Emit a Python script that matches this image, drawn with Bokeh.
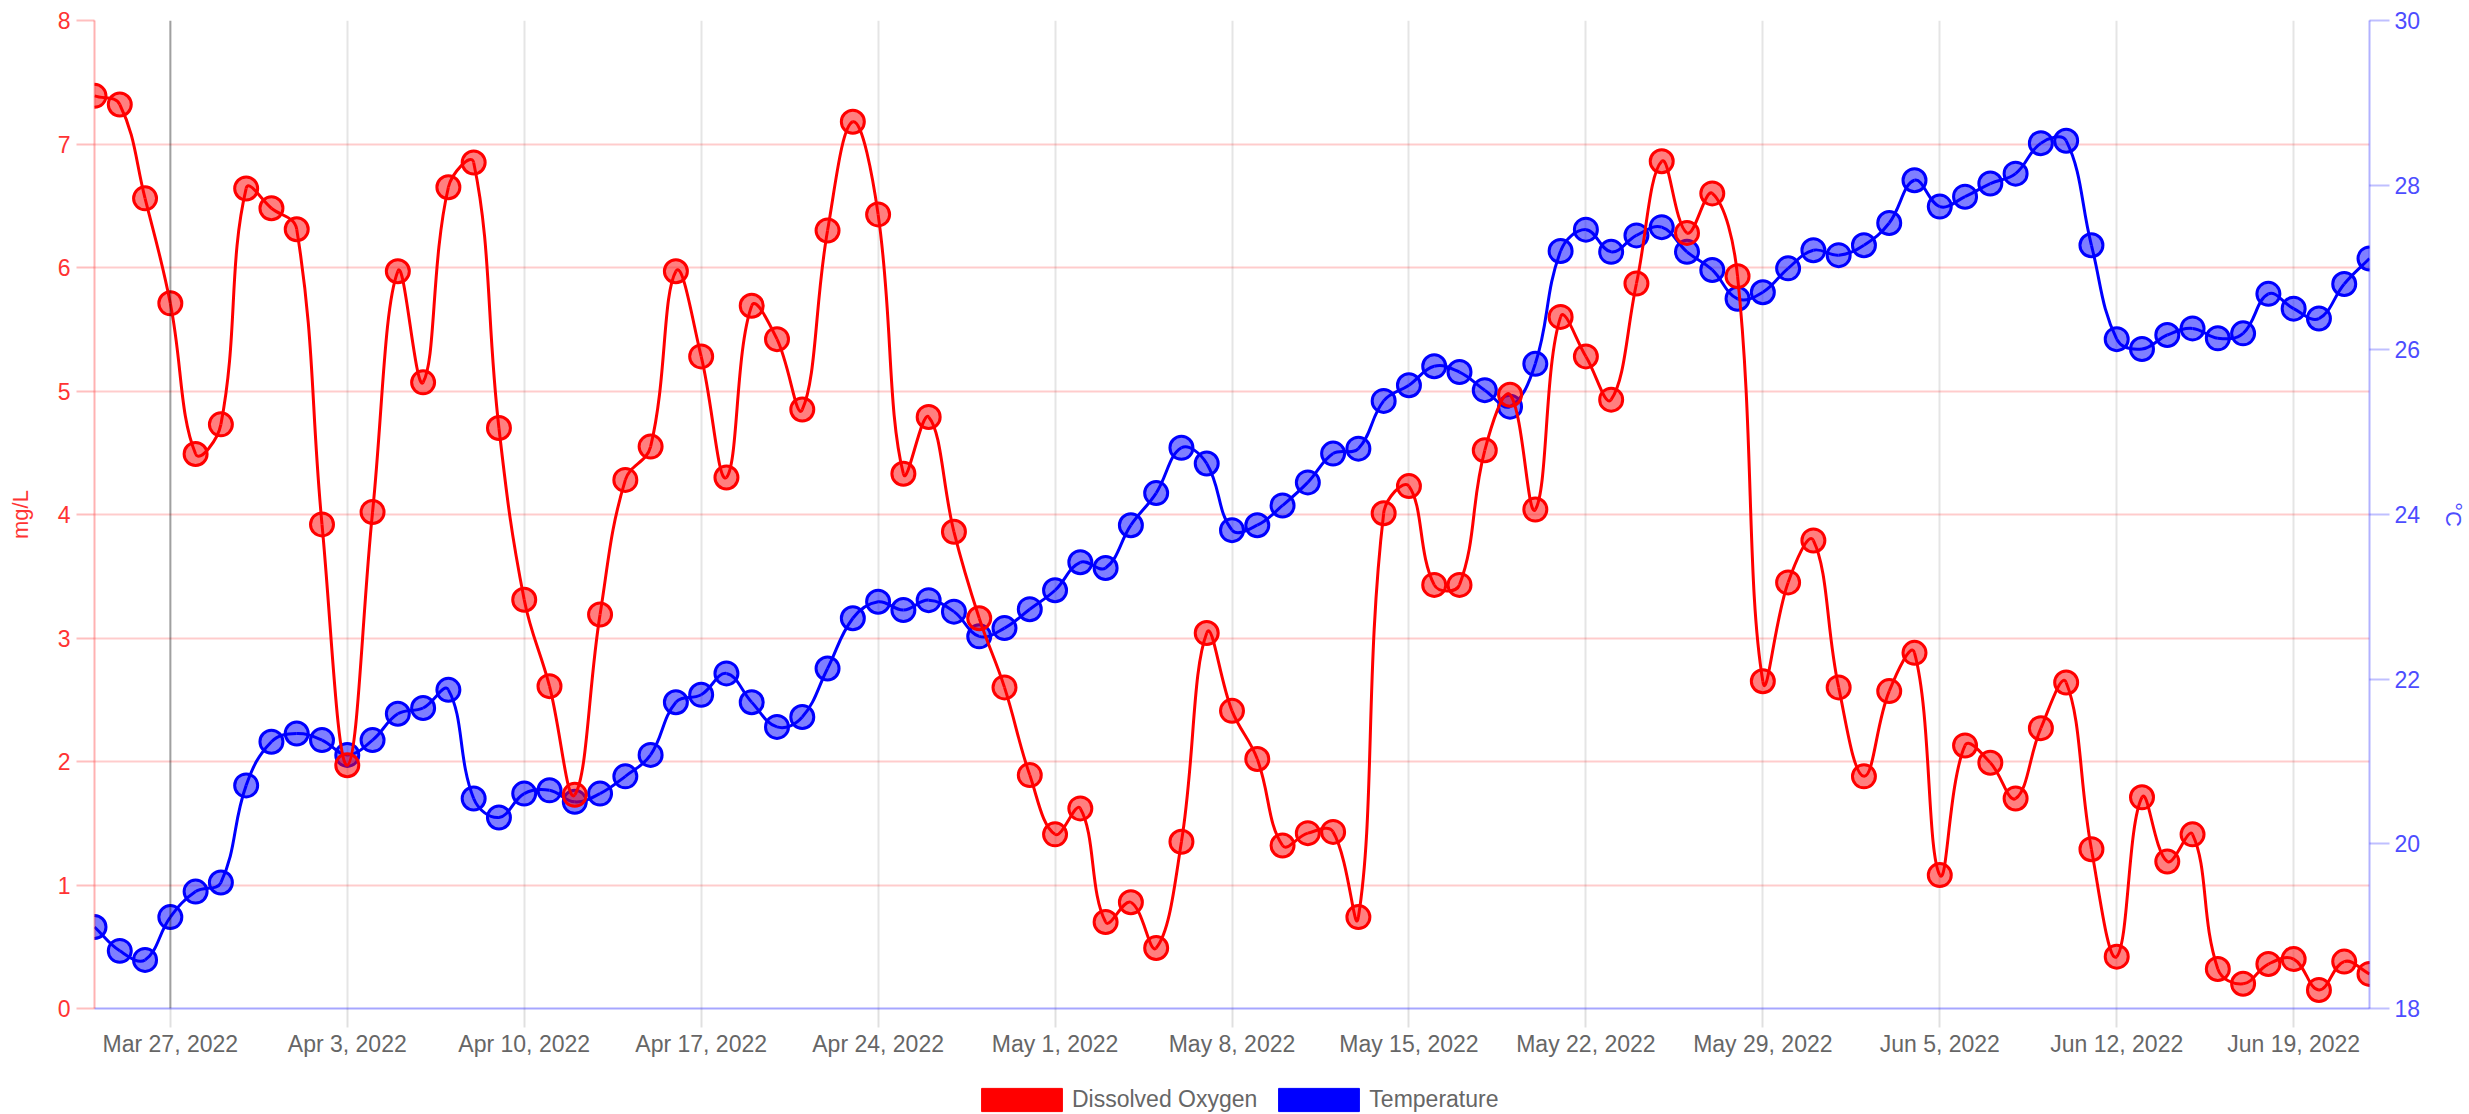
import numpy as np
import pandas as pd
from bokeh.plotting import figure
from bokeh.layouts import column
from bokeh.models import Range1d, LinearAxis, FixedTicker, Grid, Legend, LegendItem, Span
from bokeh.embed import file_html
from bokeh.resources import INLINE

# ---------------- data ----------------
first_date = "2022-03-24"
last_date = "2022-06-22"

dissolved_oxygen = [
    7.39, 7.32, 6.56, 5.71, 4.49, 4.73, 6.64, 6.48, 6.31, 3.92, 1.97, 4.02, 5.97, 5.07, 6.65, 6.85,
    4.70, 3.31, 2.61, 1.73, 3.19, 4.28, 4.55, 5.97, 5.28, 4.30, 5.69, 5.42, 4.85, 6.30, 7.18,
    6.43, 4.33, 4.79, 3.86, 3.16, 2.60, 1.89, 1.41, 1.62, 0.70, 0.86, 0.49, 1.35, 3.04, 2.41,
    2.02, 1.32, 1.42, 1.43, 0.74, 4.01, 4.23, 3.43, 3.43, 4.52, 4.97, 4.04, 5.60, 5.28, 4.93,
    5.87, 6.86, 6.28, 6.60, 5.93, 2.65, 3.45, 3.79, 2.60, 1.88, 2.57, 2.88, 1.08, 2.13, 1.99,
    1.70, 2.27, 2.64, 1.29, 0.42, 1.71, 1.19, 1.41, 0.32, 0.20, 0.36, 0.40, 0.15, 0.38, 0.28,
]

temperature = [
    18.99, 18.70, 18.59, 19.11, 19.42, 19.53, 20.71, 21.24, 21.34, 21.26, 21.08, 21.26, 21.58, 21.65, 21.87, 20.55,
    20.32, 20.61, 20.65, 20.51, 20.61, 20.82, 21.08, 21.72, 21.81, 22.07, 21.72, 21.42, 21.54, 22.13, 22.74,
    22.94, 22.84, 22.96, 22.82, 22.52, 22.62, 22.85, 23.08, 23.42, 23.35, 23.87, 24.26, 24.81, 24.62, 23.81,
    23.87, 24.11, 24.39, 24.74, 24.80, 25.38, 25.57, 25.80, 25.73, 25.51, 25.31, 25.83, 27.20, 27.46, 27.19,
    27.39, 27.49, 27.19, 26.97, 26.62, 26.70, 26.99, 27.21, 27.15, 27.27, 27.54, 28.06, 27.74, 27.86, 28.02,
    28.14, 28.51, 28.54, 27.27, 26.13, 26.01, 26.18, 26.26, 26.14, 26.20, 26.68, 26.50, 26.38, 26.80, 27.11,
]

x_tick_labels = [
    "Mar 27, 2022", "Apr 3, 2022", "Apr 10, 2022", "Apr 17, 2022", "Apr 24, 2022",
    "May 1, 2022", "May 8, 2022", "May 15, 2022", "May 22, 2022", "May 29, 2022",
    "Jun 5, 2022", "Jun 12, 2022", "Jun 19, 2022",
]
do_ticks = [0, 1, 2, 3, 4, 5, 6, 7, 8]
temp_ticks = [18, 20, 22, 24, 26, 28, 30]
series_names = ["Dissolved Oxygen", "Temperature"]
series_colors = ["red", "blue"]

# ---------------- derived ----------------
dates = pd.date_range(first_date, last_date, freq="D")
day = np.arange(len(dates), dtype=float)
tick_pos = [int((pd.to_datetime(s, format="%b %d, %Y") - dates[0]).days) for s in x_tick_labels]

FONT = "Liberation Sans"
W, H = 2469, 1114
LEGEND_H = 29


def spline(xs, ys, kx, ky, lo, hi, t=0.4):
    """Chart.js-like cubic control points (computed in approx. pixel space)."""
    px = np.asarray(xs, float) * kx
    py = np.asarray(ys, float) * ky
    n = len(px)
    pcx, pcy, ncx, ncy = (np.zeros(n) for _ in range(4))
    for i in range(n):
        ax, ay = (px[i - 1], py[i - 1]) if i > 0 else (px[i], py[i])
        bx, by = (px[i + 1], py[i + 1]) if i < n - 1 else (px[i], py[i])
        d01 = np.hypot(px[i] - ax, py[i] - ay)
        d12 = np.hypot(bx - px[i], by - py[i])
        s = d01 + d12
        s01 = d01 / s if s > 0 else 0.0
        s12 = d12 / s if s > 0 else 0.0
        fa, fb = t * s01, t * s12
        pcx[i] = px[i] - fa * (bx - ax)
        pcy[i] = py[i] - fa * (by - ay)
        ncx[i] = px[i] + fb * (bx - ax)
        ncy[i] = py[i] + fb * (by - ay)
    xs_, ys_ = px / kx, py / ky
    return dict(
        x0=xs_[:-1], y0=ys_[:-1], x1=xs_[1:], y1=ys_[1:],
        cx0=ncx[:-1] / kx, cy0=np.clip(ncy[:-1] / ky, lo, hi),
        cx1=pcx[1:] / kx, cy1=np.clip(pcy[1:] / ky, lo, hi),
    )


# ---------------- main figure ----------------
H1 = H - LEGEND_H
p = figure(
    width=W, height=H1,
    x_range=Range1d(0, len(dates) - 1), y_range=Range1d(0, 8),
    output_backend="svg", toolbar_location=None,
    min_border_left=94, min_border_right=95, min_border_top=20, min_border_bottom=H1 - 1008,
)
p.extra_y_ranges = {"temp": Range1d(18, 30)}
p.outline_line_color = None
p.background_fill_color = "white"

# x axis
xa = p.xaxis[0]
xa.ticker = FixedTicker(ticks=tick_pos)
xa.major_label_overrides = {pos: lab for pos, lab in zip(tick_pos, x_tick_labels)}
xa.major_label_text_font = FONT
xa.major_label_text_font_size = "23px"
xa.major_label_text_color = "#666666"
xa.major_label_standoff = 3
xa.major_tick_out = 19
xa.major_tick_in = 0
xa.major_tick_line_color = "black"
xa.major_tick_line_alpha = 0.12
xa.major_tick_line_width = 2
xa.minor_tick_line_color = None
xa.axis_line_color = "blue"
xa.axis_line_alpha = 0.35
xa.axis_line_width = 2

p.xgrid[0].grid_line_color = "black"
p.xgrid[0].grid_line_alpha = 0.1
p.xgrid[0].grid_line_width = 2

# left axis (mg/L)
ya = p.yaxis[0]
ya.ticker = FixedTicker(ticks=do_ticks)
ya.major_label_text_font = FONT
ya.major_label_text_font_size = "23px"
ya.major_label_text_color = "#ff3333"
ya.major_label_standoff = 6
ya.major_tick_out = 18
ya.major_tick_in = 0
ya.major_tick_line_color = "red"
ya.major_tick_line_alpha = 0.25
ya.major_tick_line_width = 2
ya.minor_tick_line_color = None
ya.axis_line_color = "red"
ya.axis_line_alpha = 0.3
ya.axis_line_width = 2
ya.axis_label = "mg/L"
ya.axis_label_text_font = FONT
ya.axis_label_text_font_size = "22px"
ya.axis_label_text_font_style = "normal"
ya.axis_label_text_color = "#ff3333"
ya.axis_label_standoff = 22

p.ygrid[0].grid_line_color = "red"
p.ygrid[0].grid_line_alpha = 0.2
p.ygrid[0].grid_line_width = 2

# right axis (°C)
ra = LinearAxis(y_range_name="temp", ticker=FixedTicker(ticks=temp_ticks))
ra.major_label_text_font = FONT
ra.major_label_text_font_size = "23px"
ra.major_label_text_color = "#4d4dff"
ra.major_label_standoff = 5
ra.major_tick_out = 20
ra.major_tick_in = 0
ra.major_tick_line_color = "blue"
ra.major_tick_line_alpha = 0.25
ra.major_tick_line_width = 2
ra.minor_tick_line_color = None
ra.axis_line_color = "blue"
ra.axis_line_alpha = 0.3
ra.axis_line_width = 2
ra.axis_label = "°C"
ra.axis_label_text_font = FONT
ra.axis_label_text_font_size = "22px"
ra.axis_label_text_font_style = "normal"
ra.axis_label_text_color = "#4d4dff"
ra.axis_label_standoff = 18
p.add_layout(ra, "right")

tgrid = Grid(dimension=1, axis=ra, grid_line_color="blue", grid_line_alpha=0.2, grid_line_width=2)
p.add_layout(tgrid)

p.add_layout(Span(location=tick_pos[0], dimension="height", line_color="black",
                  line_alpha=0.3, line_width=2))

# ---------------- series ----------------
# temperature (drawn first, below)
tb = spline(day, temperature, 25.33, 82.3, 18, 30)
p.bezier(**tb, line_color=series_colors[1], line_width=3, y_range_name="temp")
p.scatter(day, temperature, size=23, marker="circle", fill_color=series_colors[1], fill_alpha=0.5,
          line_color=series_colors[1], line_width=3, y_range_name="temp")

# dissolved oxygen (drawn on top)
db = spline(day, dissolved_oxygen, 25.33, 123.5, 0, 8)
p.bezier(**db, line_color=series_colors[0], line_width=3)
p.scatter(day, dissolved_oxygen, size=23, marker="circle", fill_color=series_colors[0], fill_alpha=0.5,
          line_color=series_colors[0], line_width=3)

# ---------------- legend strip ----------------
lf = figure(
    width=W, height=LEGEND_H, x_range=Range1d(0, 1), y_range=Range1d(0, 1),
    output_backend="svg", toolbar_location=None,
    x_axis_location=None, y_axis_location=None, min_border=0,
)
lf.outline_line_color = None
lf.xgrid.visible = False
lf.ygrid.visible = False
items = []
for name, col, vals in zip(series_names, series_colors, [dissolved_oxygen, temperature]):
    # hidden swatch renderer (not displayed); only its legend box is shown
    r = lf.quad(left=day[:1], right=day[:1], top=vals[:1], bottom=vals[:1],
                fill_color=col, line_color=col, visible=False)
    items.append(LegendItem(label=name, renderers=[r]))
legend = Legend(
    items=items, location=(877, 0), orientation="horizontal", click_policy="none",
    glyph_width=101, glyph_height=29, label_height=27, label_standoff=0, spacing=11,
    padding=0, margin=0, border_line_color=None, background_fill_alpha=0,
    inactive_fill_alpha=0,
    label_text_font=FONT, label_text_font_size="23px", label_text_color="#666666",
)
lf.add_layout(legend)

layout = column(p, lf, spacing=0)
open("out.html", "w").write(file_html(layout, INLINE))
